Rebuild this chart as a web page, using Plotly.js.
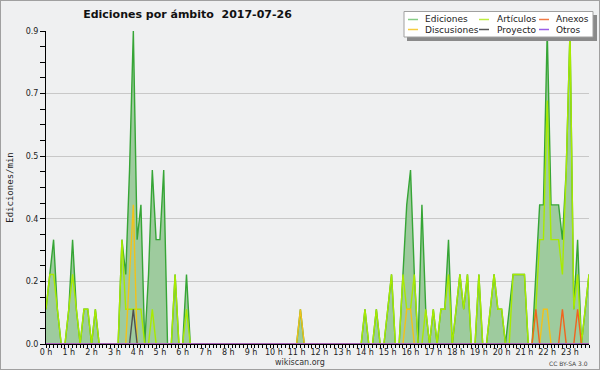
<!DOCTYPE html>
<html><head><meta charset="utf-8">
<script src="https://cdn.plot.ly/plotly-3.0.1.min.js"></script>
<style>html,body{margin:0;padding:0;background:#fff}#chart{width:598px;height:368px;border:1px solid #a0a0a0}</style>
</head><body><div id="chart"></div>
<script>
// Tick labels
const hourTicks = [0,1,2,3,4,5,6,7,8,9,10,11,12,13,14,15,16,17,18,19,20,21,22,23];
const hourLabels = ["0 h","1 h","2 h","3 h","4 h","5 h","6 h","7 h","8 h","9 h","10 h","11 h",
  "12 h","13 h","14 h","15 h","16 h","17 h","18 h","19 h","20 h","21 h","22 h","23 h"];
const yTickVals = [0, 0.18, 0.36, 0.54, 0.72, 0.9];
const yTickText = ["0.0","0.2","0.4","0.5","0.7","0.9"];

// Series (edits/min, one value per 10 minutes, 144 values)
const ediciones = [
 .1,.2,.3,.1,0,0,.1,.3,.1,0,.1,.1,
 0,.1,0,0,0,0,0,0,.3,.2,.5,.9,
 .3,.4,0,.2,.5,.3,.3,.5,0,0,.2,0,
 0,.2,0,0,0,0,0,0,0,0,0,0,
 0,0,0,0,0,0,0,0,0,0,0,0,
 0,0,0,0,0,0,0,.1,0,0,0,0,
 0,0,0,0,0,0,0,0,0,0,0,0,
 .1,0,0,.1,0,0,.1,.2,0,0,.2,.4,
 .5,.2,0,.4,.1,0,.1,0,.1,.1,.3,0,
 .1,.2,.1,.2,0,0,.2,0,0,.1,.2,.1,
 .1,0,.1,.2,.2,.2,.2,0,0,.2,.4,.4,
 .9,.4,.4,.4,.3,.5,.9,.1,.3,0,.1,.2];
const articulos = [
 .1,.2,.2,.1,0,0,.1,.2,.1,0,.1,.1,
 0,.1,0,0,0,0,0,0,.3,.1,.1,.1,
 .1,.1,0,0,.1,0,0,0,0,0,.2,0,
 0,.1,0,0,0,0,0,0,0,0,0,0,
 0,0,0,0,0,0,0,0,0,0,0,0,
 0,0,0,0,0,0,0,0,0,0,0,0,
 0,0,0,0,0,0,0,0,0,0,0,0,
 .1,0,0,.1,0,0,.1,.2,0,0,.2,.1,
 .1,.2,0,0,.1,0,.1,0,.1,.1,.2,0,
 .1,.2,.1,.2,0,0,.2,0,0,.1,.2,.1,
 .1,0,0,.2,.2,.2,.2,0,0,.1,.3,.3,
 .7,.3,.3,.3,.2,.5,.9,.1,.2,0,.1,.2];
const discusiones = [
 0,0,0,0,0,0,0,0,0,0,0,0,
 0,0,0,0,0,0,0,0,0,0,.2,.4,
 0,0,0,0,0,0,0,0,0,0,0,0,
 0,0,0,0,0,0,0,0,0,0,0,0,
 0,0,0,0,0,0,0,0,0,0,0,0,
 0,0,0,0,0,0,0,.1,0,0,0,0,
 0,0,0,0,0,0,0,0,0,0,0,0,
 0,0,0,0,0,0,0,0,0,0,0,.1,
 .1,0,0,0,0,0,0,0,0,0,0,0,
 0,0,0,0,0,0,0,0,0,0,0,0,
 0,0,0,0,0,0,0,0,0,0,0,.1,
 .1,0,0,0,0,0,0,0,0,0,0,0];
const proyecto = [
 0,0,0,0,0,0,0,0,0,0,0,0,
 0,0,0,0,0,0,0,0,0,0,0,.1,
 0,0,0,0,0,0,0,0,0,0,0,0,
 0,0,0,0,0,0,0,0,0,0,0,0,
 0,0,0,0,0,0,0,0,0,0,0,0,
 0,0,0,0,0,0,0,0,0,0,0,0,
 0,0,0,0,0,0,0,0,0,0,0,0,
 0,0,0,0,0,0,0,0,0,0,0,0,
 0,0,0,0,0,0,0,0,0,0,0,0,
 0,0,0,0,0,0,0,0,0,0,0,0,
 0,0,0,0,0,0,0,0,0,0,0,0,
 0,0,0,0,0,0,0,0,0,0,0,0];
const anexos = [
 0,0,0,0,0,0,0,0,0,0,0,0,
 0,0,0,0,0,0,0,0,0,0,0,0,
 0,0,0,0,0,0,0,0,0,0,0,0,
 0,0,0,0,0,0,0,0,0,0,0,0,
 0,0,0,0,0,0,0,0,0,0,0,0,
 0,0,0,0,0,0,0,0,0,0,0,0,
 0,0,0,0,0,0,0,0,0,0,0,0,
 0,0,0,0,0,0,0,0,0,0,0,0,
 0,0,0,0,0,0,0,0,0,0,0,0,
 0,0,0,0,0,0,0,0,0,0,0,0,
 0,0,0,0,0,0,0,0,0,.1,0,0,
 0,0,0,0,.1,0,0,0,.1,0,0,0];
const otros = [
 0,0,0,0,0,0,0,0,0,0,0,0,
 0,0,0,0,0,0,0,0,0,0,0,0,
 0,0,0,0,0,0,0,0,0,0,0,0,
 0,0,0,0,0,0,0,0,0,0,0,0,
 0,0,0,0,0,0,0,0,0,0,0,0,
 0,0,0,0,0,0,0,0,0,0,0,0,
 0,0,0,0,0,0,0,0,0,0,0,0,
 0,0,0,0,0,0,0,0,0,0,0,0,
 0,0,0,0,0,0,0,0,0,0,0,0,
 0,0,0,0,0,0,0,0,0,0,0,0,
 0,0,0,0,0,0,0,0,0,0,0,0,
 0,0,0,0,0,0,0,0,0,0,0,0];

const seriesNames = ["Ediciones","Artículos","Anexos","Discusiones","Proyecto","Otros"];
const seriesColors = {"Ediciones":"#36a536","Artículos":"#a8ea00","Discusiones":"#f2c21a",
  "Proyecto":"#505050","Anexos":"#f0641e","Otros":"#9a5ee6"};
const legendColors = {"Ediciones":"#86cc86","Artículos":"#bdec40","Discusiones":"#f5cc40",
  "Proyecto":"#555555","Anexos":"#f07a45","Otros":"#9a5ee6"};

// time of each 10-minute slot, in hours
const times = ediciones.map((_, i) => i / 6);

const FONT = "DejaVu Sans";
const traces = [
  {name:"Ediciones", y:ediciones, fill:"tozeroy", fillcolor:"#9ecb9e"},
  {name:"Artículos", y:articulos},
  {name:"Discusiones", y:discusiones},
  {name:"Proyecto", y:proyecto},
  {name:"Anexos", y:anexos},
  {name:"Otros", y:otros}
].map(t => Object.assign({
  type:"scatter", mode:"lines", x:times, showlegend:false, hoverinfo:"skip",
  line:{color:seriesColors[t.name], width:1.4}
}, t));

// plot area geometry (div pixels)
const L = 45, T = 30, W = 543, H = 313;
const px = X => (X - 1 - L) / W;
const py = Y => 1 - (Y - 1 - T) / H;

const shapes = [
  {type:"rect", xref:"paper", yref:"paper", x0:px(407), x1:px(597), y0:py(15), y1:py(41),
   fillcolor:"#8a8a8a", line:{width:0}, layer:"above"},
  {type:"rect", xref:"paper", yref:"paper", x0:px(404), x1:px(593), y0:py(11.5), y1:py(37),
   fillcolor:"#ffffff", line:{color:"#a0a0a0", width:1}, layer:"above"}
];
const annotations = [];
const legendCols = [[408, 424], [479, 496], [539, 555]];
const legendRows = [19.5, 29.5];
// horizontal legend order: row 1 then row 2
seriesNames.forEach((name, k) => {
  const col = legendCols[k % 3], row = legendRows[Math.floor(k / 3)];
  shapes.push({type:"line", xref:"paper", yref:"paper", x0:px(col[0]), x1:px(col[0] + 10),
    y0:py(row), y1:py(row), line:{color:legendColors[name], width:1.5}, layer:"above"});
  annotations.push({xref:"paper", yref:"paper", x:px(col[1] - 1), y:py(row), xanchor:"left",
    yanchor:"middle", text:name, showarrow:false, font:{family:FONT, size:9, color:"#222"}});
});
annotations.push({xref:"paper", yref:"paper", x:px(300), y:py(362), xanchor:"center", yanchor:"middle",
  text:"wikiscan.org", showarrow:false, font:{family:FONT, size:8, color:"#333"}});
annotations.push({xref:"paper", yref:"paper", x:px(590), y:py(363), xanchor:"right", yanchor:"middle",
  text:"CC BY-SA 3.0", showarrow:false, font:{family:FONT, size:6, color:"#444"}});

const layout = {
  width:598, height:368,
  margin:{l:L, r:598 - L - W, t:T, b:368 - T - H, pad:0},
  paper_bgcolor:"#eff0f1", plot_bgcolor:"#eff0f1",
  font:{family:FONT, color:"#222"},
  title:{text:"<b>Ediciones por ámbito\u00a0 2017-07-26</b>", font:{family:FONT, size:11, color:"#111"},
    xref:"container", yref:"container", x:186.5/598, xanchor:"center", y:1 - 13/368, yanchor:"middle"},
  xaxis:{range:[0, 143/6], tickmode:"array", tickvals:hourTicks, ticktext:hourLabels,
    ticks:"outside", ticklen:3, tickwidth:1, tickcolor:"#000", showline:true, linecolor:"#000", linewidth:1,
    ticklabelstandoff:-3,
    showgrid:false, zeroline:false, tickfont:{family:FONT, size:8, color:"#222"}, fixedrange:true,
    minor:{tickmode:"linear", tick0:0, dtick:1/6, ticks:"outside", ticklen:3, tickwidth:1, tickcolor:"#000", showgrid:false}},
  yaxis:{range:[0, 0.9], tickmode:"array", tickvals:yTickVals, ticktext:yTickText,
    ticks:"outside", ticklen:5, tickwidth:1, tickcolor:"#000", showline:true, linecolor:"#000", linewidth:1,
    showgrid:true, gridcolor:"#c8c8c8", gridwidth:1, zeroline:false, fixedrange:true,
    tickfont:{family:FONT, size:8, color:"#222"},
    minor:{tickmode:"linear", tick0:0, dtick:0.045, ticks:"outside", ticklen:5, tickwidth:1, tickcolor:"#000", showgrid:false},
    title:{text:"Ediciones/min", font:{family:"DejaVu Sans Mono", size:9, color:"#222"}, standoff:10}},
  shapes:shapes, annotations:annotations, showlegend:false
};
Plotly.newPlot("chart", traces, layout, {staticPlot:true, displayModeBar:false});
</script></body></html>
